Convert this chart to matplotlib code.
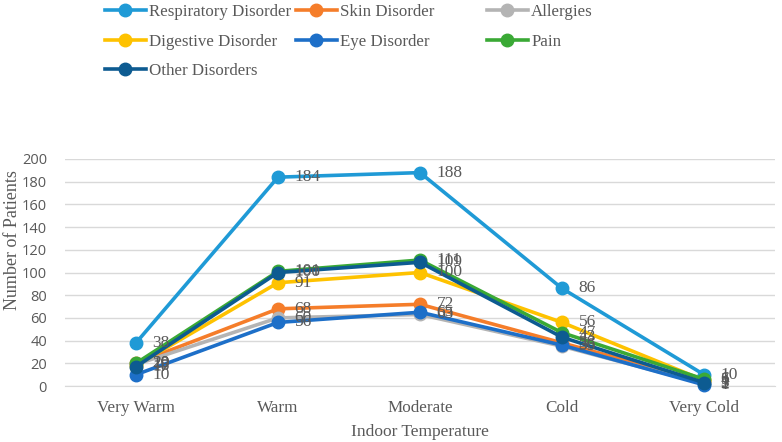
import matplotlib
matplotlib.use("Agg")
import matplotlib.pyplot as plt

categories = ["Very Warm", "Warm", "Moderate", "Cold", "Very Cold"]
series_names = ["Respiratory Disorder", "Skin Disorder", "Allergies",
                "Digestive Disorder", "Eye Disorder", "Pain", "Other Disorders"]
respiratory = [38, 184, 188, 86, 10]
skin = [20, 68, 72, 38, 4]
allergies = [19, 60, 63, 35, 2]
digestive = [18, 91, 100, 56, 5]
eye = [10, 56, 65, 36, 1]
pain = [20, 101, 111, 47, 6]
other = [17, 100, 109, 43, 3]
yticks = [0, 20, 40, 60, 80, 100, 120, 140, 160, 180, 200]

values = [respiratory, skin, allergies, digestive, eye, pain, other]
colors = ["#1f9ad6", "#f57d2a", "#b4b4b4", "#fec200", "#1d6fc8", "#3aa935", "#0d5b91"]

plt.rcParams['font.family'] = ['Liberation Serif', 'DejaVu Serif']
txt = "#595959"

fig = plt.figure(figsize=(7.82, 4.42), dpi=100)
ax = fig.add_axes([65/782, 56/442, 710/782, 227/442])

x = list(range(len(categories)))
lines = []
for name, vals, c in zip(series_names, values, colors):
    ln, = ax.plot(x, vals, color=c, lw=2.6, marker='o', markersize=9,
                  label=name, zorder=3, clip_on=False)
    lines.append(ln)
    for xi, v in zip(x, vals):
        ax.annotate(str(v), (xi, v), xytext=(12, 0), textcoords='offset points',
                    ha='left', va='center', fontsize=12.5, color=txt, zorder=4)

ax.set_xlim(-0.5, 4.5)
ax.set_ylim(0, 200)
ax.set_yticks(yticks)
ax.set_xticks(x)
ax.set_xticklabels(categories)
ax.tick_params(axis='both', length=0, colors=txt)
ax.tick_params(axis='x', labelsize=12.3, pad=10)
ax.tick_params(axis='y', pad=13)
for t in ax.get_yticklabels():
    t.set_fontfamily(['Open Sans', 'DejaVu Sans'])
    t.set_fontsize(10.5)
ax.grid(axis='y', color='#d9d9d9', lw=1)
ax.set_axisbelow(True)
for s in ['top', 'right', 'left']:
    ax.spines[s].set_visible(False)
ax.spines['bottom'].set_color('#d9d9d9')
ax.set_xlabel("Indoor Temperature", fontsize=12.5, color=txt, labelpad=6)
ax.set_ylabel("Number of Patients", fontsize=13, color=txt)
ax.yaxis.set_label_coords(-44/710, (386-240)/227)

cols = [[0, 3, 6], [1, 4], [2, 5]]
xs = [105, 296, 487]
for idxs, xp in zip(cols, xs):
    leg = fig.legend([lines[i] for i in idxs], [series_names[i] for i in idxs],
                     loc='upper left', bbox_to_anchor=(xp/782, 1 - 4/442),
                     frameon=False, fontsize=12.2, handlelength=2.4,
                     handletextpad=0.2, labelspacing=0.8, borderpad=0,
                     borderaxespad=0, markerscale=1.0)
    for t in leg.get_texts():
        t.set_color(txt)

fig.savefig("out.png", dpi=100)
